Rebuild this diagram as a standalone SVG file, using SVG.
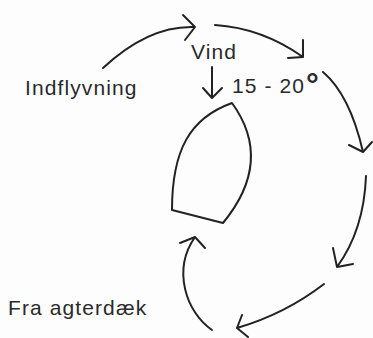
<svg xmlns="http://www.w3.org/2000/svg" width="373" height="338" viewBox="0 0 373 338">
<style>
.ln{fill:none;stroke:#222;stroke-width:2;stroke-linecap:round;stroke-linejoin:round}
.tx{font-family:"Liberation Sans",Arial,Helvetica,sans-serif;font-size:21px;fill:#2a2a2a;letter-spacing:1.1px}
</style>
<rect width="373" height="338" fill="#fdfdfd"/>
<g id="boat">
<path class="ln" d="M232,103 C190,118 172,150 172,210 L223,223 Q274,161 232,103 Z"/>
</g>
<g id="label-indflyvning"><text class="tx" x="25" y="95">Indflyvning</text></g>
<g id="label-vind"><text class="tx" x="191" y="59">Vind</text></g>
<g id="label-angle"><text class="tx" x="232" y="93" letter-spacing="0">15 - 20<tspan dx="1" dy="2" font-size="32" font-weight="bold">°</tspan></text></g>
<g id="label-agterdaek"><text class="tx" x="8" y="315">Fra agterdæk</text></g>
<g id="connectors">
<path class="ln" d="M212,67 L212,98 M203,88 L212,98 L222,88"/>
<path class="ln" d="M103,68 Q149,25 195,27 M183,15 L195,27 L185,40"/>
<path class="ln" d="M215,25 Q262,28 303,57 M303,40 L303,57 L288,58"/>
<path class="ln" d="M323,72 Q350,95 363,152 M349,145 L363,152 L372,142"/>
<path class="ln" d="M366,176 Q364,230 337,267 M333,248 L337,267 L353,264"/>
<path class="ln" d="M324,284 Q285,314 237,328 M242,315 L237,328 L248,337"/>
<path class="ln" d="M212,330 C186,312 172,270 195,237 M180,243 L195,237 L205,248"/>
</g>
</svg>
